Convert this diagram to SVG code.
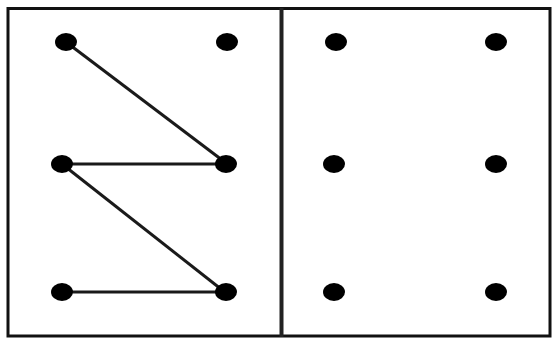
<svg xmlns="http://www.w3.org/2000/svg" width="553" height="338" viewBox="0 0 553 338">
<style>
.dot{fill:#000}
.edge{stroke:#1a1a1a;stroke-width:3;fill:none}
.frame{fill:none;stroke:#111;stroke-width:3}
</style>
<rect x="0" y="0" width="553" height="338" fill="#fff"/>
<rect class="frame" x="8" y="8.5" width="542" height="327.5"/>
<line x1="281.5" y1="8" x2="281.5" y2="337" stroke="#222" stroke-width="4"/>
<g id="connectors">
<line class="edge" x1="66" y1="42" x2="226" y2="163"/>
<line class="edge" x1="62" y1="164" x2="226" y2="164"/>
<line class="edge" x1="62" y1="164" x2="226" y2="293"/>
<line class="edge" x1="62" y1="292" x2="226" y2="292"/>
</g>
<g id="n1"><ellipse class="dot" cx="66" cy="42" rx="11" ry="9"/></g>
<g id="n2"><ellipse class="dot" cx="227" cy="42" rx="11" ry="9"/></g>
<g id="n3"><ellipse class="dot" cx="62" cy="164" rx="11" ry="9"/></g>
<g id="n4"><ellipse class="dot" cx="226" cy="164" rx="11" ry="9"/></g>
<g id="n5"><ellipse class="dot" cx="62" cy="292" rx="11" ry="9"/></g>
<g id="n6"><ellipse class="dot" cx="226" cy="292" rx="11" ry="9"/></g>
<g id="n7"><ellipse class="dot" cx="336" cy="42" rx="11" ry="9"/></g>
<g id="n8"><ellipse class="dot" cx="496" cy="42" rx="11" ry="9"/></g>
<g id="n9"><ellipse class="dot" cx="334" cy="164" rx="11" ry="9"/></g>
<g id="n10"><ellipse class="dot" cx="496" cy="164" rx="11" ry="9"/></g>
<g id="n11"><ellipse class="dot" cx="334" cy="292" rx="11" ry="9"/></g>
<g id="n12"><ellipse class="dot" cx="496" cy="292" rx="11" ry="9"/></g>
</svg>
